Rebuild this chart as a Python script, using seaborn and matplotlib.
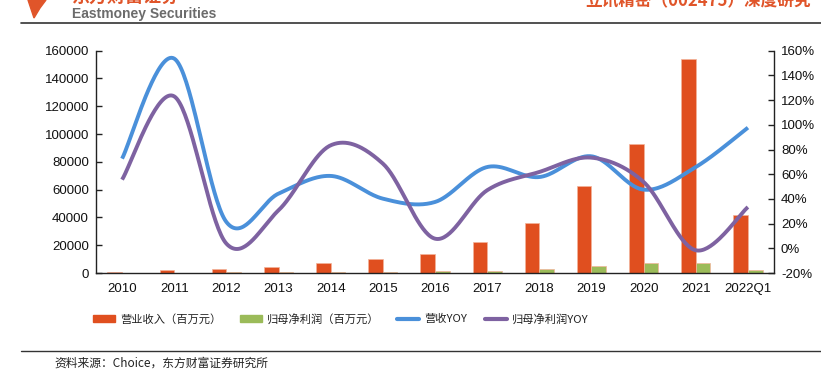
import numpy as np
import pandas as pd
import matplotlib
matplotlib.use("Agg")
import matplotlib.pyplot as plt
from matplotlib.patches import Patch, Polygon
from matplotlib.lines import Line2D
from matplotlib.ticker import FuncFormatter, MultipleLocator
import seaborn as sns

# data
years = ["2010", "2011", "2012", "2013", "2014", "2015", "2016",
         "2017", "2018", "2019", "2020", "2021", "2022Q1"]
revenue = [1000, 2400, 3100, 4600, 7200, 10100, 13700,
           22600, 36000, 62400, 92600, 153900, 41500]
net_profit = [150, 260, 400, 560, 800, 1000, 1300,
              1700, 2700, 4700, 7000, 6900, 1900]
revenue_yoy = [0.726, 1.536, 0.213, 0.443, 0.586, 0.402, 0.375,
               0.658, 0.577, 0.745, 0.475, 0.658, 0.977]
profit_yoy = [0.556, 1.23, 0.038, 0.308, 0.834, 0.686, 0.078,
              0.47, 0.618, 0.734, 0.537, -0.016, 0.334]

bar_names = ["营业收入（百万元）", "归母净利润（百万元）"]
line_names = ["营收YOY", "归母净利润YOY"]
c_rev, c_np = "#E04F1F", "#9BBB59"
c_ryoy, c_pyoy = "#4A90DA", "#7E62A1"

sns.set_style("white")
plt.rcParams["font.family"] = ["Liberation Sans", "Noto Sans CJK SC", "DejaVu Sans"]
cjk = ["Noto Sans CJK SC", "DejaVu Sans"]


def smooth(ys, n=40):
    # Excel-style smoothed line (Catmull-Rom -> cubic Bezier)
    x = np.arange(len(ys), dtype=float)
    p = np.column_stack([x, np.asarray(ys, dtype=float)])
    p = np.vstack([p[0], p, p[-1]])
    out = []
    t = np.linspace(0, 1, n)[:, None]
    for i in range(1, len(p) - 2):
        p0, p1, p2, p3 = p[i - 1], p[i], p[i + 1], p[i + 2]
        c1 = p1 + (p2 - p0) / 6
        c2 = p2 - (p3 - p1) / 6
        seg = ((1 - t) ** 3) * p1 + 3 * ((1 - t) ** 2) * t * c1 + 3 * (1 - t) * t ** 2 * c2 + t ** 3 * p2
        out.append(seg if i == 1 else seg[1:])
    out = np.vstack(out)
    return out[:, 0], out[:, 1]


df = pd.DataFrame({
    "year": years * 2,
    "value": revenue + net_profit,
    "series": [bar_names[0]] * len(years) + [bar_names[1]] * len(years),
})

fig = plt.figure(figsize=(8.21, 3.83), dpi=100)
ax = fig.add_axes([96 / 821, 1 - 273 / 383, (774 - 96) / 821, (273 - 50.7) / 383])

sns.barplot(data=df, x="year", y="value", hue="series", order=years,
            hue_order=bar_names, palette=[c_rev, c_np], saturation=1,
            width=0.56, gap=0, edgecolor="#F3B49A", linewidth=0.5, ax=ax,
            legend=False)

ax.set_xlim(-0.5, len(years) - 0.5)
ax.set_ylim(0, 160000)
ax.yaxis.set_major_locator(MultipleLocator(20000))
ax.set_xlabel("")
ax.set_ylabel("")
ax.set_xticks(np.arange(len(years)))
ax.set_xticklabels(years)
ax.set_xticks(np.arange(-0.5, len(years), 1), minor=True)
ax.tick_params(axis="x", which="major", length=0, pad=7, labelsize=9.5, labelcolor="#111111")
ax.tick_params(axis="x", which="minor", direction="in", length=4, width=1, color="#222222")
ax.tick_params(axis="y", direction="in", length=4, width=1, color="#222222",
               labelsize=9.5, labelcolor="#111111", pad=5)

ax2 = ax.twinx()
for ys, col in [(revenue_yoy, c_ryoy), (profit_yoy, c_pyoy)]:
    sx, sy = smooth(ys)
    ax2.plot(sx, sy, color=col, lw=2.8, solid_capstyle="butt")
ax2.set_ylim(-0.2, 1.6)
ax2.yaxis.set_major_locator(MultipleLocator(0.2))
ax2.yaxis.set_major_formatter(FuncFormatter(lambda v, _: f"{v * 100:.0f}%"))
ax2.tick_params(axis="y", direction="in", length=4, width=1, color="#222222",
                labelsize=9.5, labelcolor="#111111", pad=5)

for a in (ax, ax2):
    a.spines["top"].set_visible(False)
    for s in ("left", "right", "bottom"):
        a.spines[s].set_color("#222222")
        a.spines[s].set_linewidth(1.0)
ax.spines["right"].set_visible(False)
ax2.spines["left"].set_visible(False)
ax2.spines["bottom"].set_visible(False)

handles = [
    Patch(facecolor=c_rev, edgecolor=c_rev),
    Patch(facecolor=c_np, edgecolor=c_np),
    Line2D([0], [0], color=c_ryoy, lw=3),
    Line2D([0], [0], color=c_pyoy, lw=3),
]
fig.legend(handles, bar_names + line_names, loc="center", ncol=4,
           bbox_to_anchor=(341 / 821, 1 - 319 / 383), frameon=False,
           prop={"family": cjk, "size": 8.1}, handlelength=1.95,
           handleheight=0.55, handletextpad=0.45, columnspacing=1.6,
           labelcolor="#222222")

# header and footer
fig.add_artist(Line2D([21 / 821, 1], [1 - 22.5 / 383] * 2, transform=fig.transFigure,
                      color="#333333", lw=1.2))
fig.add_artist(Line2D([21 / 821, 1], [1 - 350.7 / 383] * 2, transform=fig.transFigure,
                      color="#333333", lw=1.0))
fig.add_artist(Polygon([(28 / 821, 1.0), (46 / 821, 1.0), (40 / 821, 1 - 8 / 383),
                        (34 / 821, 1 - 18 / 383), (31 / 821, 1 - 9 / 383)],
                       closed=True, transform=fig.transFigure, color="#E0552A"))
fig.text(72 / 821, 1 + 3 / 383, "东方财富证券", family=cjk, fontsize=13,
         fontweight="bold", color="#E0552A", va="center", ha="left")
fig.text(72 / 821, 1 - 14 / 383, "Eastmoney Securities", fontsize=10,
         fontweight="bold", color="#6B6B6B", va="center", ha="left")
fig.text(585 / 821, 1 - 1 / 383, "立讯精密（002475）深度研究", family=cjk,
         fontsize=12, fontweight="bold", color="#E0552A", va="center", ha="left")
fig.text(54 / 821, 1 - 363 / 383, "资料来源：Choice，东方财富证券研究所", family=cjk,
         fontsize=8.5, color="#222222", va="center", ha="left")

fig.savefig("out.png", dpi=100)
